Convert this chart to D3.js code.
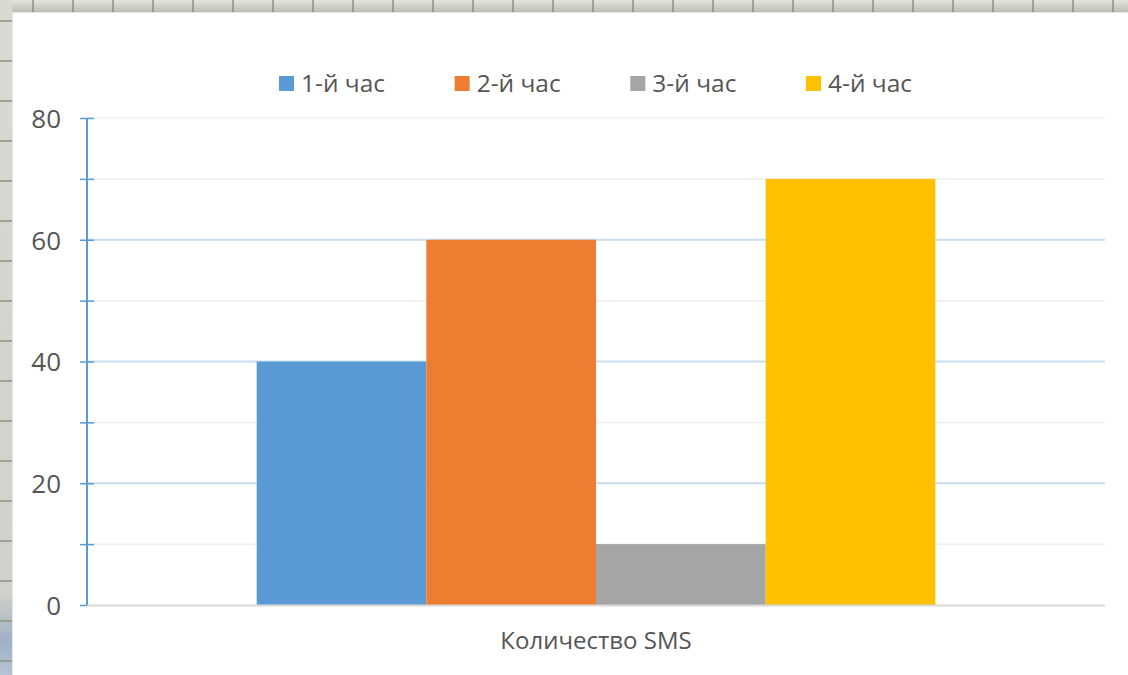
<!DOCTYPE html>
<html>
<head>
<meta charset="utf-8">
<script src="https://cdn.jsdelivr.net/npm/d3@7"></script>
<style>
  html, body { margin: 0; padding: 0; background: #ffffff; }
  svg { display: block; }
</style>
</head>
<body>
<svg id="chart" width="1128" height="675"></svg>
<script>
// Chart data
const categories = ["Количество SMS"];
const seriesNames = ["1-й час", "2-й час", "3-й час", "4-й час"];
const seriesValues = [40, 60, 10, 70];
const seriesColors = ["#5b9bd5", "#ed7d31", "#a5a5a5", "#ffc000"];
const yTickLabels = [0, 20, 40, 60, 80];
const yMinorTicks = [10, 30, 50, 70];

const W = 1128, H = 675;
const svg = d3.select("#chart");
const FONT = "'Open Sans', 'DejaVu Sans', sans-serif";
const TEXT = "#555555";

// Spreadsheet backdrop peeking out at top and left
const defs = svg.append("defs");
const topGrad = defs.append("linearGradient").attr("id", "topStrip")
  .attr("x1", 0).attr("y1", 0).attr("x2", 0).attr("y2", 1);
topGrad.append("stop").attr("offset", "0%").attr("stop-color", "#e4e5dd");
topGrad.append("stop").attr("offset", "100%").attr("stop-color", "#bdbfb6");
const leftGrad = defs.append("linearGradient").attr("id", "leftStrip")
  .attr("x1", 0).attr("y1", 0).attr("x2", 0).attr("y2", 1);
leftGrad.append("stop").attr("offset", "0%").attr("stop-color", "#d9dad2");
leftGrad.append("stop").attr("offset", "88%").attr("stop-color", "#cfd1ca");
leftGrad.append("stop").attr("offset", "95%").attr("stop-color", "#9fb0c6");
leftGrad.append("stop").attr("offset", "100%").attr("stop-color", "#b7c3d2");

const back = svg.append("g");
back.append("rect").attr("x", 0).attr("y", 0).attr("width", W).attr("height", 12)
  .attr("fill", "url(#topStrip)");
back.append("rect").attr("x", 0).attr("y", 0).attr("width", 12).attr("height", H)
  .attr("fill", "url(#leftStrip)");
back.selectAll("line.vcell").data(d3.range(33, W, 40)).join("line")
  .attr("x1", d => d).attr("x2", d => d).attr("y1", 0).attr("y2", 12)
  .attr("stroke", "#8f927f").attr("stroke-width", 1.5);
back.selectAll("line.hcell").data(d3.range(21, H, 40)).join("line")
  .attr("x1", 0).attr("x2", 12).attr("y1", d => d).attr("y2", d => d)
  .attr("stroke", "#8f927f").attr("stroke-width", 1.5);

// Chart area
svg.append("rect").attr("x", 12).attr("y", 12).attr("width", W - 12).attr("height", H - 12)
  .attr("fill", "#ffffff");
svg.append("line").attr("x1", 12).attr("x2", W).attr("y1", 12.5).attr("y2", 12.5)
  .attr("stroke", "#e6e6e6").attr("stroke-width", 1);
svg.append("line").attr("x1", 12.5).attr("x2", 12.5).attr("y1", 12).attr("y2", H)
  .attr("stroke", "#e6e6e6").attr("stroke-width", 1);

// Plot geometry
const plot = { left: 87, right: 1105, top: 118, bottom: 605 };

const y = d3.scaleLinear().domain([0, 80]).range([plot.bottom, plot.top]);
const x0 = d3.scaleBand().domain(categories).range([plot.left, plot.right])
  .paddingInner(0.2).paddingOuter(0.2);
const x1 = d3.scaleBand().domain(seriesNames).range([0, x0.bandwidth()]).padding(0);

const g = svg.append("g");

// Minor gridlines
g.selectAll("line.minor").data(yMinorTicks).join("line")
  .attr("x1", plot.left).attr("x2", plot.right)
  .attr("y1", d => y(d)).attr("y2", d => y(d))
  .attr("stroke", "#efefef").attr("stroke-width", 1.5);

// Major gridlines
g.selectAll("line.major").data(yTickLabels.filter(d => d > 0)).join("line")
  .attr("x1", plot.left).attr("x2", plot.right)
  .attr("y1", d => y(d)).attr("y2", d => y(d))
  .attr("stroke", d => d === 80 ? "#eef4fb" : "#c9ddf0").attr("stroke-width", 2);

// Bars
categories.forEach(cat => {
  g.append("g").selectAll("rect").data(seriesNames).join("rect")
    .attr("x", (s) => x0(cat) + x1(s))
    .attr("width", x1.bandwidth())
    .attr("y", (s, i) => y(seriesValues[i]))
    .attr("height", (s, i) => y(0) - y(seriesValues[i]))
    .attr("fill", (s, i) => seriesColors[i]);
});

// Category baseline
g.append("line").attr("x1", plot.left).attr("x2", plot.right)
  .attr("y1", y(0) + 0.5).attr("y2", y(0) + 0.5)
  .attr("stroke", "#d9d9d9").attr("stroke-width", 2);

// Value axis with crossing tick marks every 10
const yAxis = d3.axisLeft(y)
  .tickValues(yTickLabels.concat(yMinorTicks).sort((a, b) => a - b))
  .tickSize(0).tickFormat(d => yTickLabels.includes(d) ? d : "");
const ax = g.append("g").attr("transform", `translate(${plot.left},0)`).call(yAxis);
ax.select(".domain").attr("stroke", "#5b9bd5").attr("stroke-width", 2)
  .attr("d", `M0,${plot.top}V${plot.bottom}`);
ax.selectAll(".tick line")
  .attr("x1", -7).attr("x2", d => d === 0 ? 0 : 7)
  .attr("stroke", "#5b9bd5").attr("stroke-width", 1.5);
ax.selectAll(".tick text")
  .attr("x", -26).attr("dy", "0.36em")
  .style("font-family", FONT).style("font-size", "26px").attr("fill", TEXT);

// Category label
g.selectAll("text.cat").data(categories).join("text")
  .attr("x", d => x0(d) + x0.bandwidth() / 2).attr("y", 649)
  .attr("text-anchor", "middle")
  .style("font-family", FONT).style("font-size", "24px").attr("fill", TEXT)
  .text(d => d);

// Legend
const legendX = d3.scalePoint().domain(seriesNames).range([279, 806]);
const lg = svg.append("g").selectAll("g").data(seriesNames).join("g")
  .attr("transform", d => `translate(${legendX(d)},76)`);
lg.append("rect").attr("width", 15).attr("height", 15)
  .attr("fill", (d, i) => seriesColors[i]);
lg.append("text").attr("x", 22).attr("y", 15.5)
  .style("font-family", FONT).style("font-size", "24.5px").attr("fill", TEXT)
  .text(d => d);
</script>
</body>
</html>
